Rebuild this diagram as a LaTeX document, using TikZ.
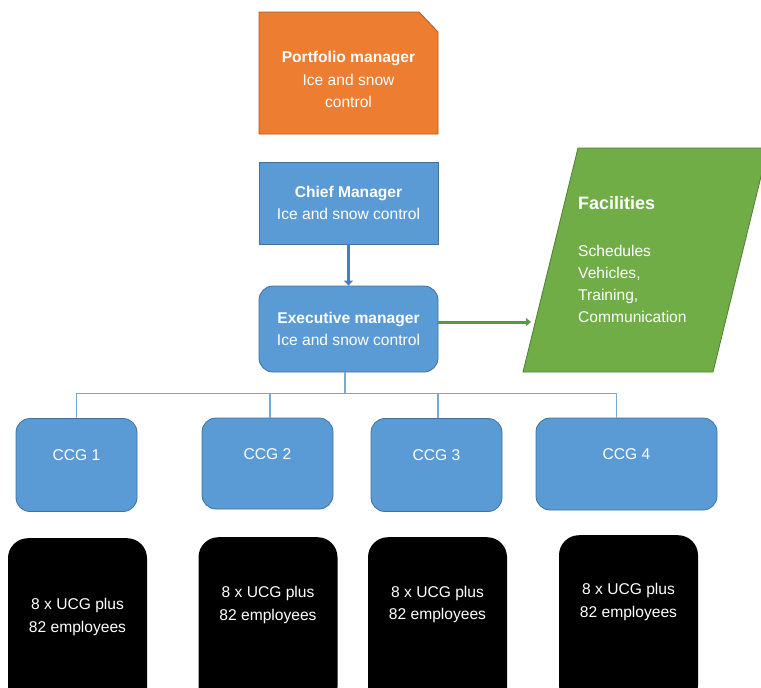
\documentclass[tikz,border=0pt]{standalone}
\usepackage{fontspec}
\setmainfont{Liberation Sans}
\usetikzlibrary{arrows.meta,positioning}
\definecolor{pmorange}{HTML}{ED7D31}
\definecolor{pmline}{HTML}{AE5A21}
\definecolor{boxblue}{HTML}{5B9BD5}
\definecolor{boxline}{HTML}{41719C}
\definecolor{treeblue}{HTML}{76A9DB}
\definecolor{arrblue}{HTML}{4A7EBB}
\definecolor{facgreen}{HTML}{70AD47}
\definecolor{facline}{HTML}{507E32}
\definecolor{arrgreen}{HTML}{5B9A3C}

\begin{document}
\begin{tikzpicture}[
  x=1pt, y=-1pt,
  every node/.style={font=\fontsize{15.6}{22.5}\selectfont, text=white, align=center, inner sep=0pt},
  bluebox/.style={draw=boxline, fill=boxblue, line width=0.8pt, minimum width=179pt},
  ccgbox/.style={draw=boxline, fill=boxblue, line width=0.8pt, rounded corners=14pt, minimum height=93pt, text height=11.2pt, text depth=20pt},
  crewbox/.style={fill=black, rounded corners=20pt, anchor=north, minimum width=139pt, minimum height=170pt},
  tree/.style={draw=treeblue, line width=1.2pt},
  blarr/.style={-{Triangle[length=5pt,width=9pt]}, draw=arrblue, line width=3.5pt},
  grarr/.style={-{Triangle[length=5pt,width=8pt]}, draw=arrgreen, line width=3pt},
]
  \clip (0,0) rectangle (761,688);

  % Portfolio manager (folded corner)
  \filldraw[fill=pmorange, draw=pmline, line width=0.8pt] (259,12) -- (419,12) -- (438,32) -- (438,134) -- (259,134) -- cycle;
  \node (pm) at (348.5,79.5) {\textbf{Portfolio manager}\\Ice and snow\\control};

  % Managers
  \node[bluebox, minimum height=82pt] (chief) at (348.5,203) {\textbf{Chief Manager}\\Ice and snow control};
  \node[bluebox, rounded corners=14pt, minimum height=86pt] (exec) at (348.5,329) {\textbf{Executive manager}\\Ice and snow control};

  % Facilities
  \filldraw[fill=facgreen, draw=facline, line width=0.8pt] (523,372) -- (578,148) -- (768,148) -- (713,372) -- cycle;
  \node[anchor=west, font=\fontsize{18}{22}\selectfont\bfseries] (fachead) at (578,203) {Facilities};
  \node[anchor=north west, align=left, font=\fontsize{15.6}{22}\selectfont] (faclist) at (578,245) {Schedules\\Vehicles,\\Training,\\Communication};
  \coordinate (facin) at (531,322);

  % CCG groups
  \node[ccgbox, minimum width=121pt] (c1) at (76.5,465) {CCG 1};
  \node[ccgbox, minimum width=131pt, minimum height=91pt] (c2) at (267.5,463.5) {CCG 2};
  \node[ccgbox, minimum width=131pt] (c3) at (436.5,465) {CCG 3};
  \node[ccgbox, minimum width=181pt, minimum height=92pt] (c4) at (626.5,464) {CCG 4};

  % Crews
  \node[crewbox] (u1) at (77.5,538) {};
  \node[crewbox] (u2) at (268,537) {};
  \node[crewbox] (u3) at (437.5,537) {};
  \node[crewbox] (u4) at (628.5,535) {};
  \node (u1t) at (77.5,617) {8 x UCG plus\\82 employees};
  \node (u2t) at (268,605) {8 x UCG plus\\82 employees};
  \node (u3t) at (437.5,604.5) {8 x UCG plus\\82 employees};
  \node (u4t) at (628.5,602) {8 x UCG plus\\82 employees};

  % Edges
  \draw[blarr] (chief) -- (exec);
  \draw[grarr] (exec.east |- facin) -- (facin);
  \draw[tree] ([xshift=-3.5pt]exec.south) -- ++(0,21) coordinate (bus);
  \draw[tree] (c1.north) |- (bus) -| ([xshift=-10pt]c4.north);
  \draw[tree] ([xshift=2.5pt]c2.north) -- ([xshift=2.5pt]c2.north |- bus);
  \draw[tree] ([xshift=1.5pt]c3.north) -- ([xshift=1.5pt]c3.north |- bus);
\end{tikzpicture}
\end{document}
